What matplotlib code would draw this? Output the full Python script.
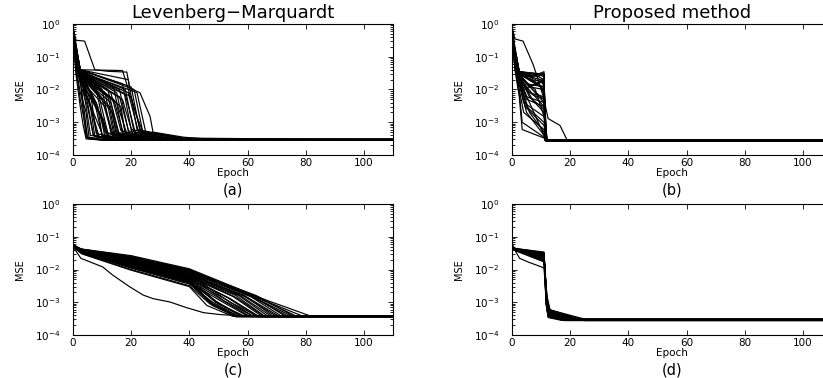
import matplotlib
matplotlib.use("Agg")
import matplotlib.pyplot as plt
from matplotlib.ticker import LogLocator, NullFormatter

plt.rcParams['font.family'] = ['DejaVu Sans']

# ---------------- data: panel (a) Levenberg-Marquardt, problem 1 ----------------
A_SHELF_EP = 2.5
a_start    = [0.75,0.60,0.50,0.70,0.40,0.55,0.65,0.45,0.80,0.50,0.60,0.35,0.70,0.50,0.60,0.45,0.75,0.55,0.40,0.65,
              0.50,0.60,0.70,0.45,0.55,0.65,0.50,0.40,0.75,0.60,0.50,0.55,0.70,0.45,0.60,0.50,0.60,0.70,0.50,0.65,
              0.55,0.62,0.48,0.70,0.52,0.66,0.58,0.45]
a_v1       = [0.12,0.08,0.15,0.10,0.20,0.09,0.14,0.07,0.25,0.10,0.12,0.08,0.18,0.11,0.15,0.06,0.13,0.16,0.09,0.14,
              0.20,0.10,0.17,0.08,0.15,0.12,0.22,0.10,0.18,0.12,0.24,0.14,0.20,0.13,0.16,0.12,0.04,0.05,0.03,0.06,
              0.10,0.12,0.09,0.15,0.11,0.13,0.14,0.08]
a_shelf    = [0.030,0.020,0.035,0.025,0.040,0.030,0.030,0.020,0.035,0.030,0.025,0.030,0.040,0.030,0.035,0.020,0.030,0.035,0.025,0.030,
              0.040,0.030,0.035,0.030,0.035,0.030,0.040,0.030,0.035,0.030,0.040,0.035,0.040,0.035,0.040,0.035,0.005,0.008,0.003,0.015,
              0.025,0.030,0.020,0.035,0.030,0.025,0.035,0.020]
a_knee_ep  = [3.0,3.5,4.0,5.0,6.0,6.0,7.0,7.0,8.0,8.0,9.0,9.0,10.0,10.0,11.0,11.0,12.0,12.0,13.0,13.0,
              14.0,14.0,15.0,15.0,16.0,16.0,17.0,17.0,18.0,18.0,19.0,19.0,20.0,20.0,21.0,22.0,4.0,4.5,3.5,5.0,
              6.5,8.5,9.5,12.5,13.5,16.5,5.5,10.5]
a_knee_val = [0.006,0.004,0.006,0.004,0.008,0.003,0.006,0.002,0.010,0.004,0.006,0.002,0.010,0.005,0.008,0.003,0.006,0.010,0.004,0.008,
              0.012,0.005,0.008,0.004,0.010,0.006,0.015,0.005,0.010,0.007,0.020,0.008,0.012,0.006,0.010,0.008,0.001,0.002,0.0008,0.003,
              0.002,0.003,0.0015,0.003,0.002,0.003,0.006,0.0012]
a_low_ep   = [4.5,5.0,6.0,7.0,8.0,9.0,10.0,10.5,11.0,11.5,12.0,12.5,13.0,13.5,14.0,14.0,15.0,15.5,16.0,16.5,
              17.0,17.5,18.0,18.5,19.0,19.5,20.0,20.5,21.0,21.5,22.0,22.5,23.0,23.5,24.0,25.0,5.0,5.5,4.5,7.0,
              8.5,10.0,11.0,14.5,15.0,18.0,7.5,12.0]
a_low_val  = [3.5e-4,3.3e-4,4.0e-4,4.0e-4,4.5e-4,3.5e-4,4.0e-4,3.5e-4,5.0e-4,4.0e-4,4.5e-4,3.5e-4,5.0e-4,4.0e-4,4.5e-4,3.5e-4,5.0e-4,4.5e-4,4.0e-4,5.5e-4,
              4.5e-4,4.0e-4,5.0e-4,4.5e-4,5.5e-4,4.0e-4,6.0e-4,4.5e-4,5.0e-4,4.5e-4,6.0e-4,5.0e-4,5.5e-4,4.5e-4,5.0e-4,5.0e-4,3.2e-4,3.5e-4,3.1e-4,4.0e-4,
              3.5e-4,3.8e-4,3.5e-4,4.0e-4,3.6e-4,4.0e-4,3.6e-4,3.4e-4]
a_set_ep   = [10,10,13,15,18,16,18,17,22,20,22,20,25,23,25,22,28,27,25,30,
              30,28,32,30,35,30,38,32,36,34,40,36,40,36,42,40,10,12,9,15,
              15,18,18,24,22,28,14,18]
a_final    = [2.9e-4,2.8e-4,3.0e-4,2.9e-4,3.05e-4,2.8e-4,2.9e-4,2.95e-4,2.9e-4,2.85e-4,3.0e-4,2.9e-4,2.9e-4,2.8e-4,2.95e-4,2.9e-4,2.9e-4,3.05e-4,2.85e-4,2.9e-4,
              2.95e-4,2.9e-4,2.9e-4,2.85e-4,3.0e-4,2.9e-4,2.95e-4,2.9e-4,2.85e-4,2.9e-4,3.0e-4,2.9e-4,2.9e-4,2.8e-4,2.95e-4,2.9e-4,2.9e-4,2.85e-4,2.9e-4,3.0e-4,
              2.9e-4,2.9e-4,2.85e-4,2.9e-4,2.95e-4,2.9e-4,2.9e-4,2.85e-4]
a_out1_ep  = [0, 1, 4, 7.5, 12, 18.5, 19.5, 23, 26.5, 27.5, 38, 50, 110]
a_out1_val = [0.8, 0.32, 0.30, 0.04, 0.036, 0.034, 0.011, 0.008, 0.0015, 5e-4, 3.5e-4, 2.9e-4, 2.9e-4]
a_out2_ep  = [0, 1, 2.5, 17, 18, 20, 22, 24, 35, 110]
a_out2_val = [0.6, 0.15, 0.04, 0.038, 0.02, 0.005, 0.0015, 5e-4, 3.3e-4, 2.9e-4]

# ---------------- data: panel (b) proposed method, problem 1 ----------------
B_SHELF_EP = 2.5
B_PRE_EP = 11
b_start    = [0.75,0.60,0.50,0.70,0.40,0.55,0.65,0.45,0.80,0.50,0.60,0.35,0.70,0.50,0.60,
              0.45,0.75,0.55,0.40,0.65,0.50,0.60,0.70,0.45,0.55,0.65,0.50,0.60,0.55,0.70,
              0.62,0.58,0.66,0.52,0.72,0.48,0.60,0.56]
b_v1       = [0.10,0.08,0.12,0.15,0.06,0.10,0.09,0.07,0.20,0.11,0.13,0.05,0.16,0.10,0.14,
              0.06,0.12,0.15,0.08,0.13,0.18,0.09,0.14,0.07,0.05,0.04,0.10,0.12,0.10,0.16,
              0.10,0.09,0.12,0.08,0.14,0.07,0.11,0.10]
b_shelf    = [0.030,0.035,0.025,0.030,0.020,0.030,0.025,0.015,0.035,0.030,0.025,0.010,0.035,0.030,0.030,
              0.020,0.030,0.035,0.020,0.030,0.035,0.025,0.030,0.020,0.008,0.006,0.015,0.030,0.025,0.035,
              0.028,0.022,0.032,0.018,0.033,0.020,0.030,0.026]
b_knee_ep  = [5,6,4,5,6,7,5,4,8,7,6,4,8,9,8,5,9,7,6,10,9,7,6,8,3.5,3.5,5,10,8,10,
              6,5,7,4.5,9,6,8,7]
b_knee_val = [0.025,0.030,0.010,0.015,0.008,0.020,0.005,0.004,0.030,0.010,0.006,0.002,0.020,0.015,0.008,
              0.003,0.025,0.025,0.004,0.012,0.030,0.005,0.012,0.006,0.001,6e-4,0.002,0.020,0.010,0.030,
              0.012,0.006,0.018,0.003,0.025,0.002,0.015,0.007]
b_pre_val  = [0.030,0.028,0.020,0.012,0.006,0.010,0.003,0.0015,0.025,0.005,0.002,6e-4,0.015,0.008,0.004,
              0.001,0.020,0.035,4e-4,0.007,0.030,0.0025,0.018,0.003,3.5e-4,3.3e-4,4e-4,0.012,0.0015,0.025,
              0.010,0.004,0.020,8e-4,0.030,5e-4,0.012,0.005]
b_drop_ep  = [11.5,11.6,11.8,11.7,11.9,12.0,11.8,12.0,11.4,11.9,12.1,12.0,11.6,11.7,11.9,
              12.0,11.5,11.3,12.0,11.8,11.4,12.0,11.6,11.9,12.0,12.0,12.0,11.7,12.1,11.5,
              11.8,11.9,11.6,12.0,11.5,12.0,11.7,11.9]
b_final    = [2.75e-4,2.85e-4,2.7e-4,2.8e-4,2.9e-4,2.75e-4,2.65e-4,2.75e-4,2.85e-4,2.75e-4,2.7e-4,2.8e-4,2.85e-4,2.75e-4,2.7e-4,
              2.75e-4,2.8e-4,2.75e-4,2.65e-4,2.75e-4,2.85e-4,2.75e-4,2.7e-4,2.8e-4,2.8e-4,2.75e-4,2.7e-4,2.75e-4,2.9e-4,2.75e-4,
              2.75e-4,2.8e-4,2.7e-4,2.75e-4,2.85e-4,2.75e-4,2.7e-4,2.8e-4]
b_out_ep   = [0, 1, 3.8, 7.2, 9, 11, 12.4, 16.5, 19, 110]
b_out_val  = [0.8, 0.35, 0.30, 0.06, 0.02, 0.005, 1.3e-3, 8e-4, 2.8e-4, 2.75e-4]

# ---------------- data: panel (c) Levenberg-Marquardt, problem 2 ----------------
C_EPS = [3, 20, 40]
c_start    = [0.050,0.052,0.048,0.055,0.050,0.053,0.049,0.056,0.051,0.054,0.050,0.057,0.052,0.055,
              0.049,0.053,0.056,0.051,0.054,0.058,0.052,0.055,0.050,0.053,0.056,0.051,0.054,0.050,
              0.052,0.055,0.050,0.054,0.051,0.056]
c_v3       = [0.030,0.031,0.032,0.033,0.033,0.034,0.034,0.035,0.035,0.036,0.036,0.037,0.037,0.038,
              0.038,0.039,0.039,0.040,0.040,0.041,0.041,0.042,0.042,0.036,0.038,0.037,0.039,0.040,
              0.035,0.037,0.038,0.039,0.040,0.041]
c_v20      = [0.0095,0.0100,0.0110,0.0115,0.0120,0.0125,0.0130,0.0135,0.0140,0.0150,0.0155,0.0160,0.0170,0.0175,
              0.0185,0.0190,0.0200,0.0210,0.0220,0.0230,0.0240,0.0250,0.0265,0.0145,0.0165,0.0180,0.0195,0.0205,
              0.0128,0.0150,0.0170,0.0185,0.0215,0.0235]
c_v40      = [0.0030,0.0032,0.0036,0.0038,0.0040,0.0042,0.0045,0.0048,0.0050,0.0053,0.0055,0.0058,0.0062,0.0065,
              0.0068,0.0072,0.0076,0.0080,0.0085,0.0090,0.0095,0.0100,0.0105,0.0044,0.0050,0.0056,0.0062,0.0070,
              0.0040,0.0047,0.0060,0.0070,0.0082,0.0092]
c_knee_ep  = [46,47,48,48,49,50,50,51,52,53,54,55,56,57,58,59,60,61,62,63,64,65,66,47,48,50,52,54,
              48,49,56,59,61,63]
c_knee_val = [8e-4,9e-4,1.0e-3,8e-4,1.1e-3,1.2e-3,9e-4,1.2e-3,1.3e-3,1.4e-3,1.3e-3,1.5e-3,1.4e-3,1.6e-3,
              1.5e-3,1.5e-3,1.4e-3,1.5e-3,1.4e-3,1.3e-3,1.3e-3,1.2e-3,1.2e-3,1.0e-3,8e-4,9e-4,1.1e-3,1.0e-3,
              9e-4,1.0e-3,1.6e-3,1.6e-3,1.7e-3,1.6e-3]
c_floor_ep = [55,56,57,56,58,60,58,61,62,63,64,65,66,67,68,70,71,72,74,75,77,79,82,56,57,59,62,64,
              57,58,66,69,73,76]
c_final    = [3.7e-4,3.8e-4,3.65e-4,3.6e-4,3.7e-4,3.8e-4,3.7e-4,3.6e-4,3.7e-4,3.75e-4,3.65e-4,3.7e-4,3.6e-4,3.75e-4,
              3.8e-4,3.7e-4,3.65e-4,3.6e-4,3.7e-4,3.8e-4,3.7e-4,3.75e-4,3.7e-4,3.65e-4,3.7e-4,3.75e-4,3.7e-4,3.6e-4,
              3.7e-4,3.8e-4,3.7e-4,3.65e-4,3.75e-4,3.7e-4]
c_out_ep   = [0, 2.7, 5.6, 10.2, 13.6, 19.4, 24.1, 27.5, 33.3, 39.1, 44.9, 50.7, 56.5, 70, 110]
c_out_val  = [0.05, 0.022, 0.0174, 0.012, 0.0068, 0.003, 0.00166, 0.00129, 0.00102, 6.8e-4, 4.8e-4, 4.2e-4, 3.9e-4, 3.7e-4, 3.7e-4]

# ---------------- data: panel (d) proposed method, problem 2 ----------------
D_EPS = [1, 11]
d_start    = [0.055,0.050,0.052,0.058,0.049,0.053,0.056,0.051,0.054,0.050,
              0.057,0.052,0.055,0.049,0.053,0.051,0.056,0.050,0.054,0.052]
d_v1       = [0.044,0.043,0.042,0.042,0.041,0.041,0.040,0.040,0.040,0.039,
              0.039,0.039,0.039,0.039,0.043,0.044,0.041,0.040,0.038,0.042]
d_v11      = [0.034,0.032,0.030,0.028,0.027,0.026,0.025,0.024,0.023,0.022,
              0.021,0.020,0.019,0.018,0.031,0.033,0.029,0.026,0.017,0.029]
d_mid_ep   = [11.8,11.9,12.0,11.8,11.9,12.0,11.7,11.9,12.1,11.8,12.0,11.9,12.1,11.8,11.9,11.7,12.0,11.8,12.0,11.9]
d_mid_val  = [1.5e-3,1.2e-3,1.0e-3,8e-4,1.3e-3,1.1e-3,9e-4,1.4e-3,1.0e-3,1.2e-3,
              8e-4,1.5e-3,1.1e-3,9e-4,1.3e-3,1.0e-3,1.6e-3,1.1e-3,1.2e-3,7e-4]
d_low_ep   = [12.5,12.6,12.8,12.4,12.7,13.0,12.5,12.9,13.2,12.6,12.8,13.0,13.1,12.5,12.7,12.4,13.1,12.7,12.9,12.5]
d_low_val  = [4.5e-4,4.0e-4,5.0e-4,3.5e-4,4.5e-4,5.5e-4,3.8e-4,6e-4,5e-4,4.2e-4,
              3.6e-4,5.2e-4,4.8e-4,4e-4,4.6e-4,3.7e-4,5.8e-4,4.3e-4,4.5e-4,3.4e-4]
d_settle_ep = [20,19,22,18,21,24,19,25,23,20,18,22,24,20,21,18,26,21,22,17]
d_final    = [2.9e-4,3.0e-4,2.8e-4,2.9e-4,3.05e-4,2.85e-4,2.95e-4,2.75e-4,2.9e-4,3.0e-4,
              2.8e-4,2.9e-4,3.05e-4,2.85e-4,2.95e-4,2.75e-4,2.9e-4,3.1e-4,2.9e-4,2.8e-4]
d_out_ep   = [0, 2.6, 5.5, 10.1, 11, 11.8, 12.5, 20, 110]
d_out_val  = [0.056, 0.022, 0.017, 0.012, 0.011, 1.2e-3, 4e-4, 2.9e-4, 2.9e-4]

titles = ["Levenberg\u2212Marquardt", "Proposed method", "", ""]
panel_labels = ["(a)", "(b)", "(c)", "(d)"]
x_ticks = [0, 20, 40, 60, 80, 100]
y_ticks = [1e-4, 1e-3, 1e-2, 1e-1, 1e0]
X_MAX = 110

# ---------------- figure ----------------
W, H = 823, 378
fig = plt.figure(figsize=(W / 100, H / 100), dpi=100)
aw, ah = 320 / W, 131 / H
pos = [(73 / W, 1 - 155 / H), (512 / W, 1 - 155 / H), (73 / W, 1 - 335 / H), (512 / W, 1 - 335 / H)]
axes = [fig.add_axes([px, py, aw, ah]) for (px, py) in pos]

LW = 0.85
kw = dict(color='black', lw=LW)

ax = axes[0]
for i in range(len(a_start)):
    ep = [0, 1, A_SHELF_EP, a_knee_ep[i], a_low_ep[i], a_set_ep[i], X_MAX]
    val = [a_start[i], a_v1[i], a_shelf[i], a_knee_val[i], a_low_val[i], a_final[i], a_final[i]]
    ax.plot(ep, val, **kw)
ax.plot(a_out1_ep, a_out1_val, **kw)
ax.plot(a_out2_ep, a_out2_val, **kw)

ax = axes[1]
for i in range(len(b_start)):
    ep = [0, 1, B_SHELF_EP, b_knee_ep[i], B_PRE_EP, b_drop_ep[i], X_MAX]
    val = [b_start[i], b_v1[i], b_shelf[i], b_knee_val[i], b_pre_val[i], b_final[i], b_final[i]]
    ax.plot(ep, val, **kw)
ax.plot(b_out_ep, b_out_val, **kw)

ax = axes[2]
for i in range(len(c_start)):
    ep = [0] + C_EPS + [c_knee_ep[i], c_floor_ep[i], X_MAX]
    val = [c_start[i], c_v3[i], c_v20[i], c_v40[i], c_knee_val[i], c_final[i], c_final[i]]
    ax.plot(ep, val, **kw)
ax.plot(c_out_ep, c_out_val, **kw)

ax = axes[3]
for i in range(len(d_start)):
    ep = [0] + D_EPS + [d_mid_ep[i], d_low_ep[i], d_settle_ep[i], X_MAX]
    val = [d_start[i], d_v1[i], d_v11[i], d_mid_val[i], d_low_val[i], d_final[i], d_final[i]]
    ax.plot(ep, val, **kw)
ax.plot(d_out_ep, d_out_val, **kw)

for k, ax in enumerate(axes):
    ax.set_yscale('log')
    ax.set_xlim(0, X_MAX)
    ax.set_ylim(1e-4, 1)
    ax.set_xticks(x_ticks)
    ax.set_yticks(y_ticks)
    ax.yaxis.set_minor_locator(LogLocator(base=10, subs=range(2, 10), numticks=20))
    ax.yaxis.set_minor_formatter(NullFormatter())
    ax.tick_params(which='both', direction='in', top=True, right=True, width=0.6)
    ax.tick_params(which='major', length=3.5)
    ax.tick_params(which='minor', length=2)
    ax.tick_params(axis='y', labelsize=7.5, pad=9)
    ax.tick_params(axis='x', labelsize=7.5, pad=2)
    for s in ax.spines.values():
        s.set_linewidth(0.8)
    ax.set_xlabel('Epoch', fontsize=7.5, labelpad=0)
    ax.set_ylabel('MSE', fontsize=7)
    ax.yaxis.set_label_coords(-0.15, 0.5)
    if titles[k]:
        ax.set_title(titles[k], fontsize=13, pad=4)
    ax.text(0.5, -0.265, panel_labels[k], transform=ax.transAxes,
            ha='center', va='center', fontsize=10.5)

fig.savefig('out.png', dpi=100)
